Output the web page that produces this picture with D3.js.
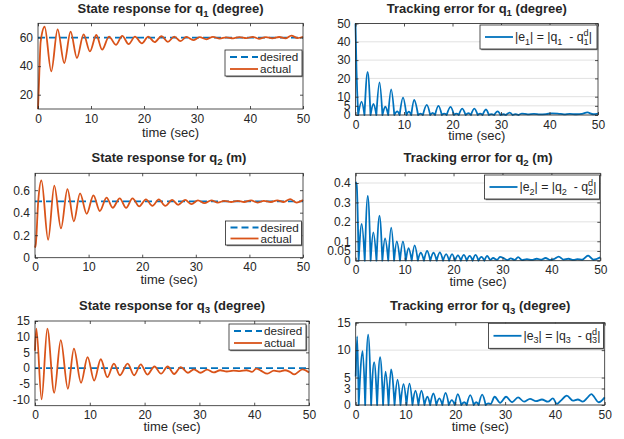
<!DOCTYPE html>
<html>
<head>
<meta charset="utf-8">
<script src="https://cdn.jsdelivr.net/npm/d3@7"></script>
<style>
body { margin: 0; background: #fff; }
svg text { font-family: "Liberation Sans", Arial, Helvetica, sans-serif; fill: #262626; white-space: pre; }
</style>
</head>
<body>
<script>
// time axis
var timeTicks = [0, 10, 20, 30, 40, 50];

// q1 (degree) - peaks / troughs
var q1Desired = [[0, 60], [50, 60]];
var q1Actual = [[0,10],[0.2,30],[0.5,57],[1.25,67.6],[2.5,36.4],[3.7,65.8],[4.95,42.2],[6.15,64.2],[7.35,45.7],[8.6,62.3],[9.8,50.3],[11.0,61.8],[12.1,51.5],[13.4,60.7],[14.7,55],[15.9,61.2],[17.1,55.4],[18.3,60.7],[19.6,56],[20.8,60.7],[22.0,56.8],[23.3,61],[24.5,57],[25.7,60.7],[26.9,57.5],[28.0,60.5],[29.3,58.2],[30.5,60.3],[31.8,58.8],[33.0,60.5],[34.3,59.3],[35.5,60.2],[36.8,59.5],[38.0,60.3],[39.3,59.6],[40.5,60.5],[41.7,59.2],[43.0,60.3],[44.2,59.5],[45.5,60.4],[46.7,59.4],[47.8,61.4],[49.0,59.6],[50,60.6]];
var e1Error = [[0,50],[0.2,25],[0.55,0],[1.25,7.3],[1.85,0],[2.5,23.5],[3.1,0],[3.7,6],[4.3,0],[4.95,17.8],[5.55,0],[6.15,4.5],[6.75,0],[7.35,14],[8.0,0],[8.6,2],[9.1,0],[9.8,9.5],[10.5,0],[11.0,1.8],[11.5,0],[12.1,8.2],[12.9,0],[13.4,0.8],[13.9,0],[14.7,5.5],[15.4,0],[15.9,1.2],[16.4,0],[17.1,5],[17.8,0],[18.3,0.7],[18.8,0],[19.6,4.4],[20.3,0],[20.8,0.7],[21.3,0],[22.0,3.5],[22.7,0],[23.3,1],[23.8,0],[24.5,3.5],[25.2,0],[25.7,0.7],[26.2,0],[26.9,3],[27.5,0],[28.0,0.5],[28.6,0],[29.3,2],[29.9,0],[30.5,0.4],[31.0,0],[31.8,1.3],[32.4,0],[33.0,0.5],[33.6,0],[34.3,0.8],[35.5,0.3],[36.8,0.6],[38.0,0.3],[39.3,0.5],[40.5,0.9],[41.7,0.8],[43.0,0.3],[44.2,0.6],[45.5,0.4],[46.7,0.6],[47.8,1.4],[49.0,0.4],[50,0.8]];
var q1Ticks = [20, 40, 60];
var e1Ticks = [0, 5, 10, 20, 30, 40, 50];

// q2 (m)
var q2Desired = [[0, 0.5], [50, 0.5]];
var q2Actual = [[0,0.09],[0.15,0.12],[0.6,0.5],[1.2,0.686],[2.45,0.159],[3.6,0.64],[4.85,0.26],[6.05,0.61],[7.25,0.323],[8.4,0.571],[9.65,0.39],[10.9,0.554],[12.1,0.415],[13.35,0.534],[14.5,0.444],[15.8,0.528],[17.0,0.444],[18.2,0.528],[19.45,0.456],[20.7,0.519],[21.9,0.46],[23.1,0.519],[24.3,0.46],[25.6,0.513],[26.7,0.47],[28.0,0.513],[29.2,0.476],[30.4,0.51],[31.6,0.485],[32.9,0.51],[34.1,0.49],[35.3,0.505],[36.6,0.495],[37.8,0.505],[39.0,0.495],[40.3,0.51],[41.5,0.49],[42.7,0.505],[44.0,0.495],[45.2,0.51],[46.4,0.495],[47.6,0.52],[48.8,0.49],[50,0.513]];
var e2Error = [[0,0.405],[0.2,0.39],[0.6,0],[1.23,0.19],[1.85,0],[2.47,0.333],[3.05,0],[3.6,0.146],[4.25,0],[4.86,0.232],[5.45,0],[6.0,0.115],[6.65,0],[7.26,0.17],[7.85,0],[8.4,0.1],[9.05,0],[9.66,0.1],[10.25,0],[10.8,0.064],[11.45,0],[12.05,0.079],[12.7,0],[13.3,0.041],[13.95,0],[14.6,0.05],[15.25,0],[15.9,0.041],[16.55,0],[17.2,0.043],[17.85,0],[18.5,0.034],[19.1,0],[19.7,0.034],[20.3,0],[20.9,0.027],[21.5,0],[22.1,0.03],[22.7,0],[23.3,0.025],[23.9,0],[24.5,0.03],[25.1,0],[25.7,0.02],[26.3,0],[26.9,0.025],[27.5,0.004],[28.1,0.014],[28.9,0.004],[29.5,0.02],[30.3,0.012],[31.0,0.003],[31.7,0.012],[32.5,0.004],[33.2,0.018],[34.0,0.003],[35.0,0.008],[36.0,0.004],[37.0,0.01],[38.0,0.005],[38.8,0.014],[39.8,0.004],[40.5,0.008],[41.5,0.021],[42.5,0.006],[43.5,0.01],[44.5,0.004],[45.3,0.008],[46.3,0.005],[47.5,0.026],[48.6,0.005],[50,0.017]];
var q2Ticks = [0, 0.2, 0.4, 0.6];
var e2Ticks = [0, 0.05, 0.1, 0.2, 0.3, 0.4];

// q3 (degree)
var q3Desired = [[0, 0], [50, 0]];
var q3Actual = [[0,5.5],[0.25,12.6],[1.2,-10],[2.25,12.6],[3.5,-7.9],[4.7,8.9],[6.0,-6.6],[7.1,6.2],[8.4,-4.7],[9.6,3.5],[10.8,-4],[12.0,2.8],[13.2,-2.9],[14.4,1.4],[15.5,-2.3],[16.9,1.4],[18.1,-2.3],[19.3,1.2],[20.5,-2.1],[21.8,0.5],[23.0,-1.8],[24.2,0.5],[25.4,-1.9],[26.6,0.3],[27.9,-1.5],[29.0,-0.4],[30.2,-1.5],[31.4,-0.5],[32.6,-1.4],[33.8,-0.7],[35.0,-1.1],[36.2,-0.8],[37.4,-1.0],[38.6,-0.7],[39.6,-1.2],[40.4,-0.2],[41.2,-0.8],[42.4,-1.8],[43.6,-0.8],[44.6,-1.1],[45.6,-0.7],[46.5,-1.2],[47.3,-2.0],[48.8,-0.4],[50,-1.4]];
var e3Error = [[0,5.2],[0.3,12.5],[0.6,0],[1.4,9.8],[1.9,0],[2.5,12.8],[3.1,0],[3.7,7.8],[4.3,0],[4.9,8.7],[5.5,0],[6.0,6.1],[6.6,0],[7.1,6.5],[7.8,0],[8.4,4.6],[9.0,0],[9.6,3.8],[10.2,0],[10.8,3.9],[11.4,0],[12.0,2.6],[12.6,0],[13.2,2.6],[13.8,0],[14.4,1.5],[14.95,0],[15.6,2.1],[16.2,0],[16.8,1.2],[17.4,0],[18.05,2.2],[18.7,0],[19.3,0.9],[19.9,0],[20.5,2.0],[21.2,0],[21.8,0.5],[22.3,0],[23.0,1.8],[23.7,0],[24.2,0.5],[24.7,0],[25.4,1.9],[26.1,0],[26.6,0.3],[27.1,0.2],[27.9,1.5],[29.0,0.4],[30.2,1.5],[31.4,0.5],[32.6,1.4],[33.8,0.6],[35.0,1.1],[36.2,0.7],[37.4,1.0],[38.6,0.6],[39.6,1.2],[40.4,0.2],[41.2,0.8],[42.4,1.7],[43.6,0.8],[44.6,1.0],[45.6,0.6],[46.5,1.3],[47.3,2.0],[48.8,0.5],[50,1.4]];
var q3Ticks = [-10, -5, 0, 5, 10, 15];
var e3Ticks = [0, 3, 5, 10, 15];

var w = 624, h = 439;
var blue = "#0072BD", orange = "#D95319", ink = "#262626";
var lw = 1.8;

var svg = d3.select("body").append("svg")
    .attr("width", w)
    .attr("height", h);

// layout of the six subplots
var panels = [
  {title: [["State response for q",""],["1","sub"],[" (degree)",""]], left: 38, right: 303, top: 23.3, bottom: 109, yDomain: [10, 70], yTicks: q1Ticks,
   desired: q1Desired, actual: q1Actual, titleY: 13, labelY: 136.5, legend: {x: 225, y: 50, w: 77, h: 26}},
  {title: [["Tracking error for q",""],["1","sub"],[" (degree)",""]], left: 355.5, right: 598, top: 23.5, bottom: 115, yDomain: [0, 50], yTicks: e1Ticks,
   error: e1Error, grid: true, titleY: 12.5, labelY: 140, legend: {x: 480, y: 25, w: 117, h: 24}, idx: "1"},
  {title: [["State response for q",""],["2","sub"],[" (m)",""]], left: 35, right: 303, top: 173.3, bottom: 257.7, yDomain: [0, 0.75], yTicks: q2Ticks,
   desired: q2Desired, actual: q2Actual, titleY: 161.5, labelY: 284, legend: {x: 225.5, y: 221, w: 76, h: 24}},
  {title: [["Tracking error for q",""],["2","sub"],[" (m)",""]], left: 355.7, right: 600.3, top: 173.3, bottom: 260.7, yDomain: [0, 0.45], yTicks: e2Ticks,
   error: e2Error, grid: true, titleY: 161.7, labelY: 286, legend: {x: 484.5, y: 175, w: 115, h: 24}, idx: "2"},
  {title: [["State response for q",""],["3","sub"],[" (degree)",""]], left: 35, right: 309, top: 321, bottom: 405.7, yDomain: [-12, 15], yTicks: q3Ticks,
   desired: q3Desired, actual: q3Actual, titleY: 309.5, labelY: 431, legend: {x: 229, y: 324, w: 77, h: 26}},
  {title: [["Tracking error for q",""],["3","sub"],[" (degree)",""]], left: 355.7, right: 604.7, top: 322.7, bottom: 405, yDomain: [0, 15], yTicks: e3Ticks,
   error: e3Error, grid: true, titleY: 310, labelY: 431, legend: {x: 488.5, y: 323.3, w: 115, h: 25}, idx: "3"}
];

// text with sub / superscripts like matlab tex
function richText(text, parts, size) {
  var off = 0, prevW = 0;
  parts.forEach(function(p) {
    var mode = p[1];
    var target = mode === "sub" ? size * 0.3 : (mode === "stack" ? -size * 0.42 : 0);
    var ts = text.append("tspan").text(p[0]).attr("dy", target - off);
    if (mode) ts.attr("font-size", size * 0.74);
    if (mode === "stack") ts.attr("dx", -prevW);
    off = target;
    prevW = ts.node().getComputedTextLength();
  });
}

// join arches at the zero points so the dips stay sharp
function errorPath(data, line) {
  var segs = [], cur = [];
  data.forEach(function(d, i) {
    cur.push(d);
    if (d[1] === 0 && i > 0 && i < data.length - 1) { segs.push(cur); cur = [d]; }
  });
  if (cur.length > 1) segs.push(cur);
  return segs.map(function(s, i) {
    var p = line(s);
    return i ? p.replace(/^M/, "L") : p;
  }).join("");
}

panels.forEach(function(p) {
  var x = d3.scaleLinear().domain([0, 50]).range([p.left, p.right]);
  var y = d3.scaleLinear().domain(p.yDomain).range([p.bottom, p.top]);
  var g = svg.append("g");

  if (p.grid) {
    g.selectAll(".grid")
      .data(p.yTicks)
      .enter().append("line")
      .attr("class", "grid")
      .attr("x1", p.left).attr("x2", p.right)
      .attr("y1", function(d) { return y(d); })
      .attr("y2", function(d) { return y(d); })
      .attr("stroke", "#e1e1e1")
      .attr("stroke-width", 1);
  }

  var line = d3.line()
      .x(function(d) { return x(d[0]); })
      .y(function(d) { return y(d[1]); })
      .curve(d3.curveMonotoneX);

  if (p.desired) {
    g.append("path")
      .attr("d", d3.line().x(function(d) { return x(d[0]); }).y(function(d) { return y(d[1]); })(p.desired))
      .attr("fill", "none").attr("stroke", blue).attr("stroke-width", lw)
      .attr("stroke-dasharray", "7,4");
    g.append("path")
      .attr("d", line(p.actual))
      .attr("fill", "none").attr("stroke", orange).attr("stroke-width", lw)
      .attr("stroke-linejoin", "round");
  }
  if (p.error) {
    g.append("path")
      .attr("d", errorPath(p.error, line))
      .attr("fill", "none").attr("stroke", blue).attr("stroke-width", lw)
      .attr("stroke-linejoin", "round");
  }

  // axes, ticks inward on all four sides
  var axes = [
    g.append("g").attr("transform", "translate(0," + p.bottom + ")")
      .call(d3.axisBottom(x).tickValues(timeTicks).tickSize(-3).tickSizeOuter(0).tickPadding(5)),
    g.append("g").attr("transform", "translate(0," + p.top + ")")
      .call(d3.axisTop(x).tickValues(timeTicks).tickSize(-3).tickSizeOuter(0).tickFormat("")),
    g.append("g").attr("transform", "translate(" + p.left + ",0)")
      .call(d3.axisLeft(y).tickValues(p.yTicks).tickSize(-3).tickSizeOuter(0).tickPadding(5).tickFormat(function(d) { return String(d); })),
    g.append("g").attr("transform", "translate(" + p.right + ",0)")
      .call(d3.axisRight(y).tickValues(p.yTicks).tickSize(-3).tickSizeOuter(0).tickFormat(""))
  ];
  axes.forEach(function(a) {
    a.attr("font-size", 12).attr("color", ink);
    a.select(".domain").remove();
    a.selectAll(".tick line").attr("stroke-width", 0.8);
  });

  g.append("rect")
    .attr("x", p.left).attr("y", p.top)
    .attr("width", p.right - p.left).attr("height", p.bottom - p.top)
    .attr("fill", "none").attr("stroke", ink).attr("stroke-width", 0.8);

  // title and x label
  var t = g.append("text")
    .attr("x", (p.left + p.right) / 2).attr("y", p.titleY)
    .attr("text-anchor", "middle")
    .attr("font-size", 13).attr("font-weight", "bold");
  richText(t, p.title, 13);

  g.append("text")
    .attr("x", (p.left + p.right) / 2).attr("y", p.labelY)
    .attr("text-anchor", "middle")
    .attr("font-size", 13)
    .text("time (sec)");

  // legend box with a little shadow
  var L = p.legend;
  var lg = g.append("g");
  lg.append("rect").attr("x", L.x + 1.2).attr("y", L.y + 1.2).attr("width", L.w).attr("height", L.h)
    .attr("fill", "#7a7a7a");
  lg.append("rect").attr("x", L.x).attr("y", L.y).attr("width", L.w).attr("height", L.h)
    .attr("fill", "#fff").attr("stroke", ink).attr("stroke-width", 0.8);

  var entries = p.desired
    ? [{c: blue, dash: "7,4", parts: [["desired",""]]}, {c: orange, dash: null, parts: [["actual",""]]}]
    : [{c: blue, dash: null, parts: [["|e",""],[p.idx,"sub"],["| = |q",""],[p.idx,"sub"],["  - q",""],[p.idx,"sub"],["d","stack"],["|",""]]}];
  var fs = p.desired ? 11.7 : 12.3;

  entries.forEach(function(e, i) {
    var cy = L.y + L.h * (i + 0.5) / entries.length + (entries.length > 1 ? (i === 0 ? 0.5 : -0.5) : 0);
    lg.append("line")
      .attr("x1", L.x + 5).attr("x2", L.x + 33)
      .attr("y1", cy).attr("y2", cy)
      .attr("stroke", e.c).attr("stroke-width", lw)
      .attr("stroke-dasharray", e.dash);
    var tx = lg.append("text")
      .attr("x", L.x + 35).attr("y", cy + 4)
      .attr("font-size", fs);
    richText(tx, e.parts, fs);
  });
});
</script>
</body>
</html>
